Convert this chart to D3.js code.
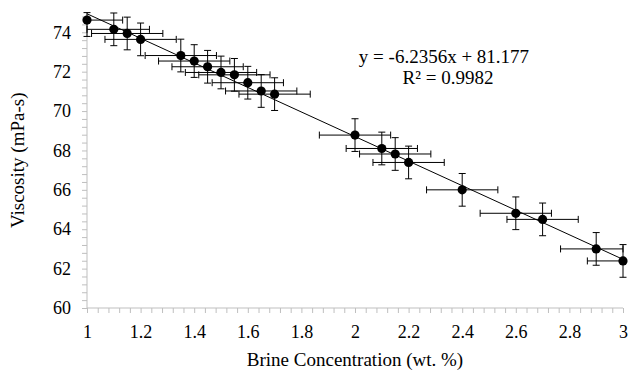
<!DOCTYPE html>
<html>
<head>
<meta charset="utf-8">
<script src="https://cdn.jsdelivr.net/npm/d3@7"></script>
<style>
  html, body { margin: 0; padding: 0; background: #fff; }
  svg, svg text { font-family: "Liberation Serif", "Times New Roman", Times, serif !important; }
</style>
</head>
<body>
<svg id="chart" width="630" height="373"></svg>
<script>
// ---- data ----
const concentration = [1, 1.1, 1.15, 1.2, 1.35, 1.4, 1.45, 1.5, 1.55, 1.6, 1.65, 1.7, 2, 2.1, 2.15, 2.2, 2.4, 2.6, 2.7, 2.9, 3];
const viscosity = [74.62, 74.15, 73.94, 73.64, 72.82, 72.54, 72.25, 71.96, 71.84, 71.44, 71.02, 70.86, 68.78, 68.1, 67.82, 67.39, 66.0, 64.81, 64.5, 63.0, 62.39];
const errViscosity = [0.83, 0.83, 0.83, 0.83, 0.83, 0.83, 0.83, 0.83, 0.83, 0.83, 0.83, 0.83, 0.83, 0.83, 0.83, 0.83, 0.83, 0.83, 0.83, 0.83, 0.83];
const errConcentration = [0.133, 0.133, 0.133, 0.133, 0.133, 0.133, 0.133, 0.133, 0.133, 0.133, 0.133, 0.133, 0.133, 0.133, 0.133, 0.133, 0.133, 0.133, 0.133, 0.133, 0.133];
const xTicks = [1, 1.2, 1.4, 1.6, 1.8, 2, 2.2, 2.4, 2.6, 2.8, 3];
const yTicks = [60, 62, 64, 66, 68, 70, 72, 74];
const trendSlope = -6.2356;
const trendIntercept = 81.177;
const equationLines = ["y = -6.2356x + 81.177", "R\u00B2 = 0.9982"];
const xTitle = "Brine Concentration (wt. %)";
const yTitle = "Viscosity (mPa-s)";

// ---- layout ----
const W = 630, H = 373;
const m = { left: 87, right: 7, top: 12.6, bottom: 65 };
const FONT = '"Liberation Serif", "Times New Roman", Times, serif';
const svg = d3.select("#chart");
const x = d3.scaleLinear().domain([1, 3]).range([m.left, W - m.right]);
const y = d3.scaleLinear().domain([60, 75]).range([H - m.bottom, m.top]);
const axisColor = "#bfbfbf";

// minor ticks
const xMinor = d3.range(0, 51).map(i => 1 + i * 0.04);
const yMinor = d3.range(0, 38).map(i => 60 + i * 0.4).filter(v => v <= 75.001);

const gx = svg.append("g").attr("transform", `translate(0,${y(60)})`);
gx.call(d3.axisBottom(x).tickValues(xMinor).tickSize(5).tickFormat(""));
gx.select(".domain").remove();
gx.selectAll("line").attr("stroke", axisColor);
gx.append("line").attr("x1", x(1)).attr("x2", x(3)).attr("stroke", axisColor);
const gxl = svg.append("g").attr("transform", `translate(0,${y(60)})`)
  .call(d3.axisBottom(x).tickValues(xTicks).tickSize(0).tickPadding(17).tickFormat(d3.format("")));
gxl.attr("font-family", null).attr("font-size", null);
gxl.select(".domain").remove();
gxl.selectAll("text").style("font-size", "18px").style("font-family", FONT).attr("fill", "#000");

const gy = svg.append("g").attr("transform", `translate(${x(1)},0)`);
gy.call(d3.axisLeft(y).tickValues(yMinor).tickSize(5).tickFormat(""));
gy.select(".domain").remove();
gy.selectAll("line").attr("stroke", axisColor);
gy.append("line").attr("y1", y(60)).attr("y2", y(75)).attr("stroke", axisColor);
const gyl = svg.append("g").attr("transform", `translate(${x(1)},0)`)
  .call(d3.axisLeft(y).tickValues(yTicks).tickSize(0).tickPadding(16).tickFormat(d3.format("")));
gyl.attr("font-family", null).attr("font-size", null);
gyl.select(".domain").remove();
gyl.selectAll("text").style("font-size", "18px").style("font-family", FONT).attr("fill", "#000");

// trendline
svg.append("line")
  .attr("x1", x(1)).attr("y1", y(trendSlope * 1 + trendIntercept))
  .attr("x2", x(3)).attr("y2", y(trendSlope * 3 + trendIntercept))
  .attr("stroke", "#000").attr("stroke-width", 1);

// error bars
const pts = concentration.map((c, i) => ({ c, v: viscosity[i], ex: errConcentration[i], ey: errViscosity[i] }));
const clampX = v => Math.max(1, Math.min(3, v));
const clampY = v => Math.max(60, Math.min(75, v));
const cap = 3.5;
const eb = svg.append("g").attr("stroke", "#000").attr("stroke-width", 1).attr("fill", "none");
pts.forEach(p => {
  const x0 = x(clampX(p.c - p.ex)), x1 = x(clampX(p.c + p.ex)), yc = y(p.v);
  eb.append("line").attr("x1", x0).attr("x2", x1).attr("y1", yc).attr("y2", yc);
  eb.append("line").attr("x1", x0).attr("x2", x0).attr("y1", yc - cap).attr("y2", yc + cap);
  eb.append("line").attr("x1", x1).attr("x2", x1).attr("y1", yc - cap).attr("y2", yc + cap);
  const y0 = y(clampY(p.v - p.ey)), y1 = y(clampY(p.v + p.ey)), xc = x(p.c);
  eb.append("line").attr("x1", xc).attr("x2", xc).attr("y1", y0).attr("y2", y1);
  eb.append("line").attr("x1", xc - cap).attr("x2", xc + cap).attr("y1", y0).attr("y2", y0);
  eb.append("line").attr("x1", xc - cap).attr("x2", xc + cap).attr("y1", y1).attr("y2", y1);
});

// markers
svg.append("g").selectAll("circle").data(pts).join("circle")
  .attr("cx", d => x(d.c)).attr("cy", d => y(d.v)).attr("r", 4.6).attr("fill", "#000");

// equation
svg.append("text").attr("x", 444).attr("y", 63).attr("text-anchor", "middle")
  .style("font-size", "19px").style("font-family", FONT).text(equationLines[0]);
svg.append("text").attr("x", 448).attr("y", 84).attr("text-anchor", "middle")
  .style("font-size", "19px").style("font-family", FONT).text(equationLines[1]);

// titles
svg.append("text").attr("x", (x(1) + x(3)) / 2).attr("y", 366).attr("text-anchor", "middle")
  .style("font-size", "19px").style("font-family", FONT).text(xTitle);
svg.append("text").attr("transform", `translate(24,${(y(60) + y(75)) / 2}) rotate(-90)`)
  .attr("text-anchor", "middle").style("font-size", "19px").style("font-family", FONT).text(yTitle);
</script>
</body>
</html>
